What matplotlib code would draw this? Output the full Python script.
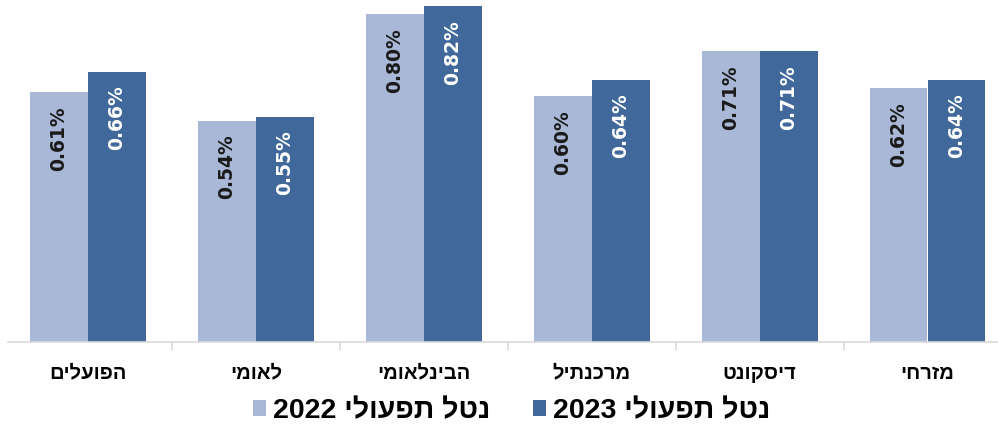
import numpy as np
import matplotlib.pyplot as plt

# נתונים
banks = ['הפועלים', 'לאומי', 'הבינלאומי', 'מרכנתיל', 'דיסקונט', 'מזרחי']
val_2022 = [0.61, 0.54, 0.80, 0.60, 0.71, 0.62]
val_2023 = [0.66, 0.55, 0.82, 0.64, 0.71, 0.64]
series_names = ['נטל תפעולי 2022', 'נטל תפעולי 2023']

c_light = '#A9B8D6'
c_dark = '#40689A'


def rtl(s):
    # matplotlib draws left to right, so flip Hebrew words and their order
    words = s.split(' ')
    out = []
    for w in words[::-1]:
        if any('\u0590' <= ch <= '\u05ff' for ch in w):
            out.append(w[::-1])
        else:
            out.append(w)
    return ' '.join(out)


plt.rcParams['font.family'] = ['Liberation Sans', 'DejaVu Sans']

fig = plt.figure(figsize=(9.98, 4.28), dpi=100)
W, H = 998, 428
base_px = 341.5
ax = fig.add_axes([0, (H - base_px) / H, 1, base_px / H])

x = np.arange(len(banks))
bw = 0.345
off = 0.1727
b1 = ax.bar(x - off, val_2022, bw, color=c_light, label=rtl(series_names[0]))
b2 = ax.bar(x + off, val_2023, bw, color=c_dark, label=rtl(series_names[1]))

ax.set_xlim(-0.524, 5.42)
ax.set_ylim(0, base_px / 409)

# תוויות בתוך העמודות
for bars, vals, col in [(b1, val_2022, '#1a1a1a'), (b2, val_2023, 'white')]:
    for r, v in zip(bars, vals):
        ax.annotate(f'{v:.2f}%', (r.get_x() + r.get_width() / 2, v),
                    xytext=(0, -10), textcoords='offset points',
                    rotation=90, ha='center', va='top', color=col,
                    fontsize=13.5, fontweight='bold', family='DejaVu Sans')

for s in ['top', 'right', 'left']:
    ax.spines[s].set_visible(False)
ax.spines['bottom'].set_color('#D9D9D9')
ax.spines['bottom'].set_linewidth(1.2)
ax.spines['bottom'].set_bounds(-0.476, 5.42)
ax.set_yticks([])

ax.set_xticks(x, [rtl(b) for b in banks])
ax.set_xticks(x[:-1] + 0.5, minor=True)
ax.tick_params(axis='x', which='major', length=0, pad=16, labelsize=14.5)
ax.tick_params(axis='x', which='minor', length=6, color='#D9D9D9', width=1.2)
for t in ax.get_xticklabels():
    t.set_fontweight('bold')

fig.legend(handles=[b1, b2], loc='center', bbox_to_anchor=(512 / W, (H - 411) / H),
           ncol=2, frameon=False, prop={'weight': 'bold', 'size': 20.5},
           handlelength=0.45, handleheight=0.45, handletextpad=0.25,
           columnspacing=1.5, borderpad=0.1)

fig.savefig('out.png', dpi=100)
